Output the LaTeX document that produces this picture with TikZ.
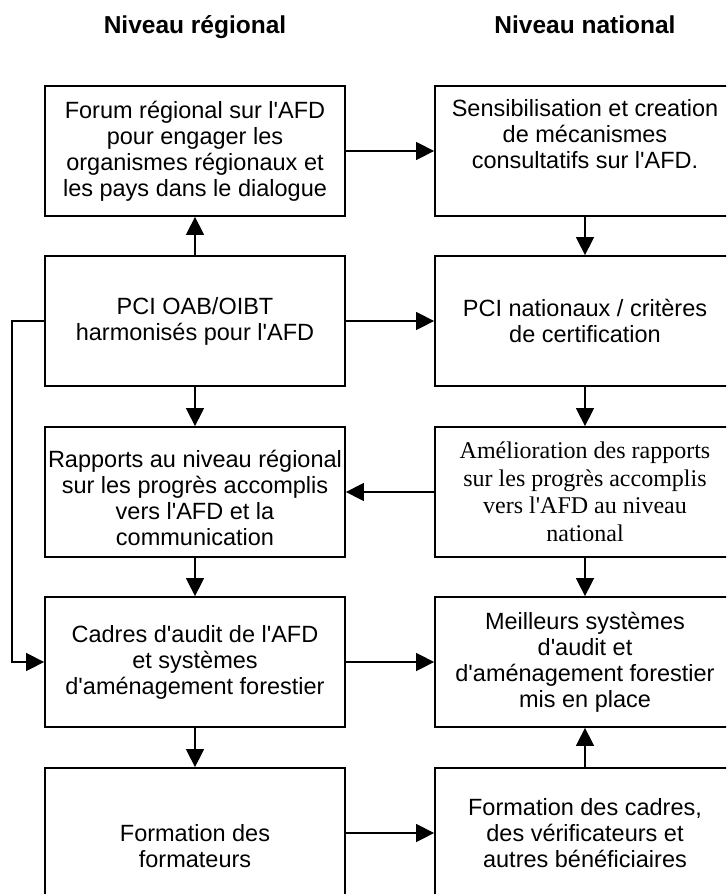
\documentclass[tikz,border=0pt]{standalone}
\usepackage{fontspec}
\setmainfont{Liberation Sans}
\newfontfamily\timesfont{Liberation Serif}
\usetikzlibrary{arrows.meta}
\newcommand\ap{\textquotesingle}
\begin{document}
\begin{tikzpicture}[x=1pt,y=-1pt,
  box/.style={draw, line width=1.8pt, minimum width=300pt, minimum height=130pt,
    align=center, inner sep=0pt, font=\fontsize{23.5}{26}\selectfont},
  serifbox/.style={box, font=\fontsize{24}{27.5}\selectfont\timesfont},
  arr/.style={line width=1.5pt, -{Triangle[length=18pt,width=18pt]}},
  ttl/.style={anchor=base, font=\fontsize{24.5}{28}\selectfont\bfseries}]
\clip (0,0) rectangle (726,894);
\fill[white] (0,0) rectangle (726,894);
% titles
\node[ttl] (t1) at (195,33) {Niveau régional};
\node[ttl] (t2) at (585,33) {Niveau national};
% left column
\node[box] (L1) at (195,151) {Forum régional sur l\ap AFD\\pour engager les\\organismes régionaux et\\les pays dans le dialogue};
\node[box] (L2) at (195,321) {PCI OAB/OIBT\\harmonisés pour l\ap AFD};
\node[box] (L3) at (195,492) {\rule{0pt}{29pt}Rapports au niveau régional\\sur les progrès accomplis\\vers l\ap AFD et la\\communication};
\node[box] (L4) at (195,662) {Cadres d\ap audit de l\ap AFD\\et systèmes\\d\ap aménagement forestier};
\node[box, minimum height=156pt] (L5) at (195,846) {Formation des\\formateurs};
% right column
\node[box] (R1) at (585,151) {Sensibilisation et creation\\de mécanismes\\consultatifs sur l\ap AFD.\\\strut};
\node[box] (R2) at (585,321) {PCI nationaux / critères\\de certification};
\node[serifbox] (R3) at (585,492) {Amélioration des rapports\\sur les progrès accomplis\\vers l\ap AFD au niveau\\national};
\node[box] (R4) at (585,662) {Meilleurs systèmes\\d\ap audit et\\d\ap aménagement forestier\\mis en place};
\node[box] (R5) at (585,833) {Formation des cadres,\\des vérificateurs et\\autres bénéficiaires};
% connectors
\draw[arr] (L1) -- (R1);
\draw[arr] (L2) -- (L1);
\draw[arr] (R1) -- (R2);
\draw[arr] (L2) -- (R2);
\draw[arr] (L2.west) -- ++(-32,0) |- (L4.west);
\draw[arr] (L2) -- (L3);
\draw[arr] (R2) -- (R3);
\draw[arr] (R3) -- (L3);
\draw[arr] (L3) -- (L4);
\draw[arr] (R3) -- (R4);
\draw[arr] (L4) -- (R4);
\draw[arr] (L4) -- (L5);
\draw[arr] (R5) -- (R4);
\draw[arr] (R5.west -| L5.east) -- (R5.west);
\end{tikzpicture}
\end{document}
